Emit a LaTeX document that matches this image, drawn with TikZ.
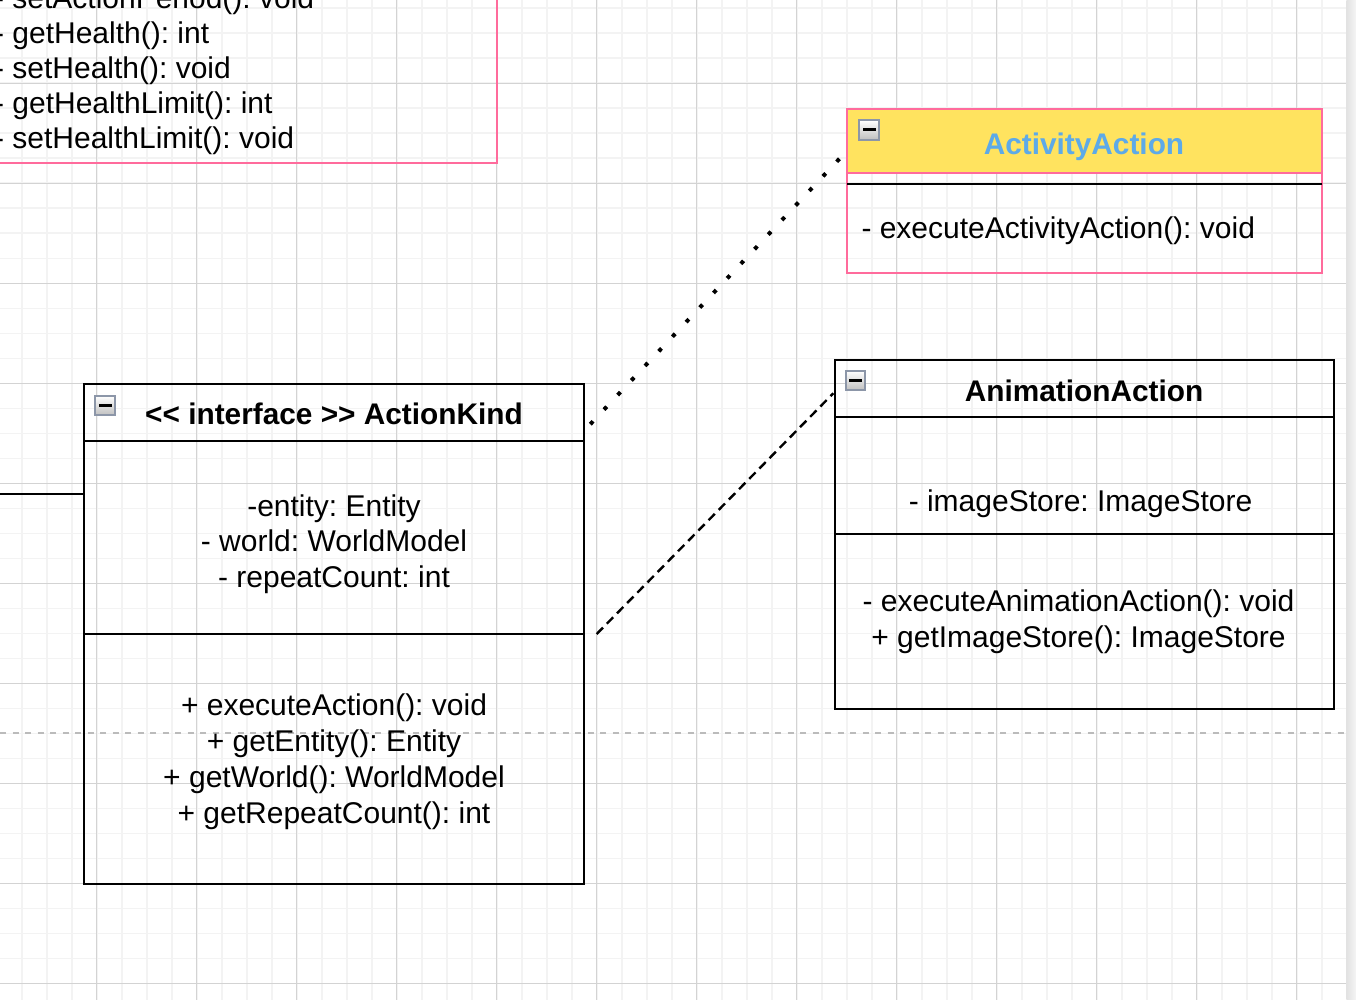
\documentclass[tikz,border=0pt]{standalone}
\usepackage{fontspec}
\setmainfont{Liberation Sans}
\usetikzlibrary{calc}
\frenchspacing
\definecolor{pinkb}{HTML}{FF6B9C}
\definecolor{yel}{HTML}{FFE35F}
\definecolor{blu}{HTML}{5DAAE8}
\definecolor{gridminor}{HTML}{F3F3F3}
\definecolor{gridmajor}{HTML}{D3D3D3}
\definecolor{pagebrk}{HTML}{BBBBBB}
\definecolor{icongray}{HTML}{8C96A8}
\begin{document}
\begin{tikzpicture}[x=1pt,y=-1pt,
  txt/.style={font=\frenchspacing\fontsize{30}{35.4}\selectfont, inner sep=0pt, outer sep=0pt, anchor=base},
  ttl/.style={font=\frenchspacing\bfseries\fontsize{29.8}{35.4}\selectfont, inner sep=0pt, outer sep=0pt, anchor=base},
  blackbox/.style={draw=black, line width=2.7pt, inner sep=0pt, outer sep=0pt, anchor=north west},
  pinkbox/.style={draw=pinkb, line width=2.2pt, inner sep=0pt, outer sep=0pt},
  sepline/.style={draw=black, line width=2.7pt},
  iconbox/.style={draw=icongray, line width=1.6pt, top color=white, bottom color=black!25,
    minimum width=19.5pt, minimum height=19.5pt, inner sep=0pt, outer sep=0pt,
    path picture={\fill[black] ($(path picture bounding box.center)+(-6.5pt,-1.5pt)$) rectangle ++(13pt,3pt);}},
  dotlink/.style={draw=black, line width=4pt, dash pattern=on 4pt off 16pt},
  dashlink/.style={draw=black, line width=2.4pt, dash pattern=on 9pt off 5.5pt},
  plainlink/.style={draw=black, line width=2.2pt}
]
\useasboundingbox (0,0) rectangle (1356,1000);
% background grid
\fill[white] (0,0) rectangle (1356,1000);
\foreach \k in {0,...,53} {
  \draw[gridminor, line width=1.6pt] (21.7+25*\k,0) -- (21.7+25*\k,1000);
}
\foreach \k in {0,...,39} {
  \draw[gridminor, line width=1.6pt] (0,8.3+25*\k) -- (1346.7,8.3+25*\k);
}
\foreach \k in {0,...,12} {
  \draw[gridmajor, line width=1.2pt] (96.7+100*\k,0) -- (96.7+100*\k,1000);
}
\foreach \k in {0,...,9} {
  \draw[gridmajor, line width=1.2pt] (0,83.3+100*\k) -- (1346.7,83.3+100*\k);
}
\shade[left color=black!11, right color=black!4] (1346.7,0) rectangle (1356,1000);
% page break line
\draw[pagebrk, line width=1.5pt, dash pattern=on 6pt off 6.5pt] (0,733) -- (1346.7,733);

% top-left class (partially visible)
\node[pinkbox, anchor=south east, minimum width=540pt, minimum height=200pt] (tl) at (496.7,163.3) {};
\node[txt, anchor=base west] (tl1) at (-5.9,8.8) {- setActionPeriod(): void};
\node[txt, anchor=base west] (tl2) at (-5.9,43.8) {- getHealth(): int};
\node[txt, anchor=base west] (tl3) at (-5.9,78.8) {- setHealth(): void};
\node[txt, anchor=base west] (tl4) at (-5.9,113.8) {- getHealthLimit(): int};
\node[txt, anchor=base west] (tl5) at (-5.9,148.8) {- setHealthLimit(): void};

% ActivityAction
\node[pinkbox, anchor=north west, minimum width=475pt, minimum height=164pt] (act) at (846.7,109.3) {};
\node[pinkbox, fill=yel, anchor=north west, minimum width=475pt, minimum height=64pt] (acth) at (846.7,109.3) {};
\draw[sepline] ($(act.north west)+(0,74.7)$) -- ($(act.north east)+(0,74.7)$);
\node[iconbox] (acti) at (869,130) {};
\node[ttl, text=blu] (actt) at (1084,154.5) {ActivityAction};
\node[txt, anchor=base west] (actm) at (861.5,239) {- executeActivityAction(): void};

% ActionKind
\node[blackbox, minimum width=500pt, minimum height=500pt] (ak) at (84,384) {};
\draw[sepline] ($(ak.north west)+(0,57)$) -- ($(ak.north east)+(0,57)$);
\draw[sepline] ($(ak.north west)+(0,250)$) -- ($(ak.north east)+(0,250)$);
\node[iconbox] (aki) at (105,405.5) {};
\node[ttl] (akt) at (334,424.5) {<\kern0pt< interface >\kern0pt> ActionKind};
\node[txt] (aka1) at (334,516) {-entity: Entity};
\node[txt] (aka2) at (334,551.5) {- world: WorldModel};
\node[txt] (aka3) at (334,587) {- repeatCount: int};
\node[txt] (akm1) at (334,715.5) {+ executeAction(): void};
\node[txt] (akm2) at (334,751) {+ getEntity(): Entity};
\node[txt] (akm3) at (334,787) {+ getWorld(): WorldModel};
\node[txt] (akm4) at (334,823) {+ getRepeatCount(): int};

% AnimationAction
\node[blackbox, minimum width=499pt, minimum height=349pt] (an) at (835,360) {};
\draw[sepline] ($(an.north west)+(0,57)$) -- ($(an.north east)+(0,57)$);
\draw[sepline] ($(an.north west)+(0,174)$) -- ($(an.north east)+(0,174)$);
\node[iconbox] (ani) at (855.5,380.5) {};
\node[ttl] (ant) at (1084,401) {AnimationAction};
\node[txt] (ana1) at (1080.5,511.5) {- imageStore: ImageStore};
\node[txt] (anm1) at (1078.5,611) {- executeAnimationAction(): void};
\node[txt] (anm2) at (1078.5,647) {+ getImageStore(): ImageStore};

% connectors
\coordinate (dotA) at (590.3,424.2);
\coordinate (dotB) at (839.5,158.7);
\draw[dotlink] (dotA) -- (dotB);
\coordinate (dashA) at (596.7,634);
\coordinate (dashB) at (833.3,393.3);
\draw[dashlink] (dashA) -- (dashB);
\coordinate (lft) at (0,494);
\draw[plainlink] (lft) -- (lft -| ak.west);
\end{tikzpicture}
\end{document}
